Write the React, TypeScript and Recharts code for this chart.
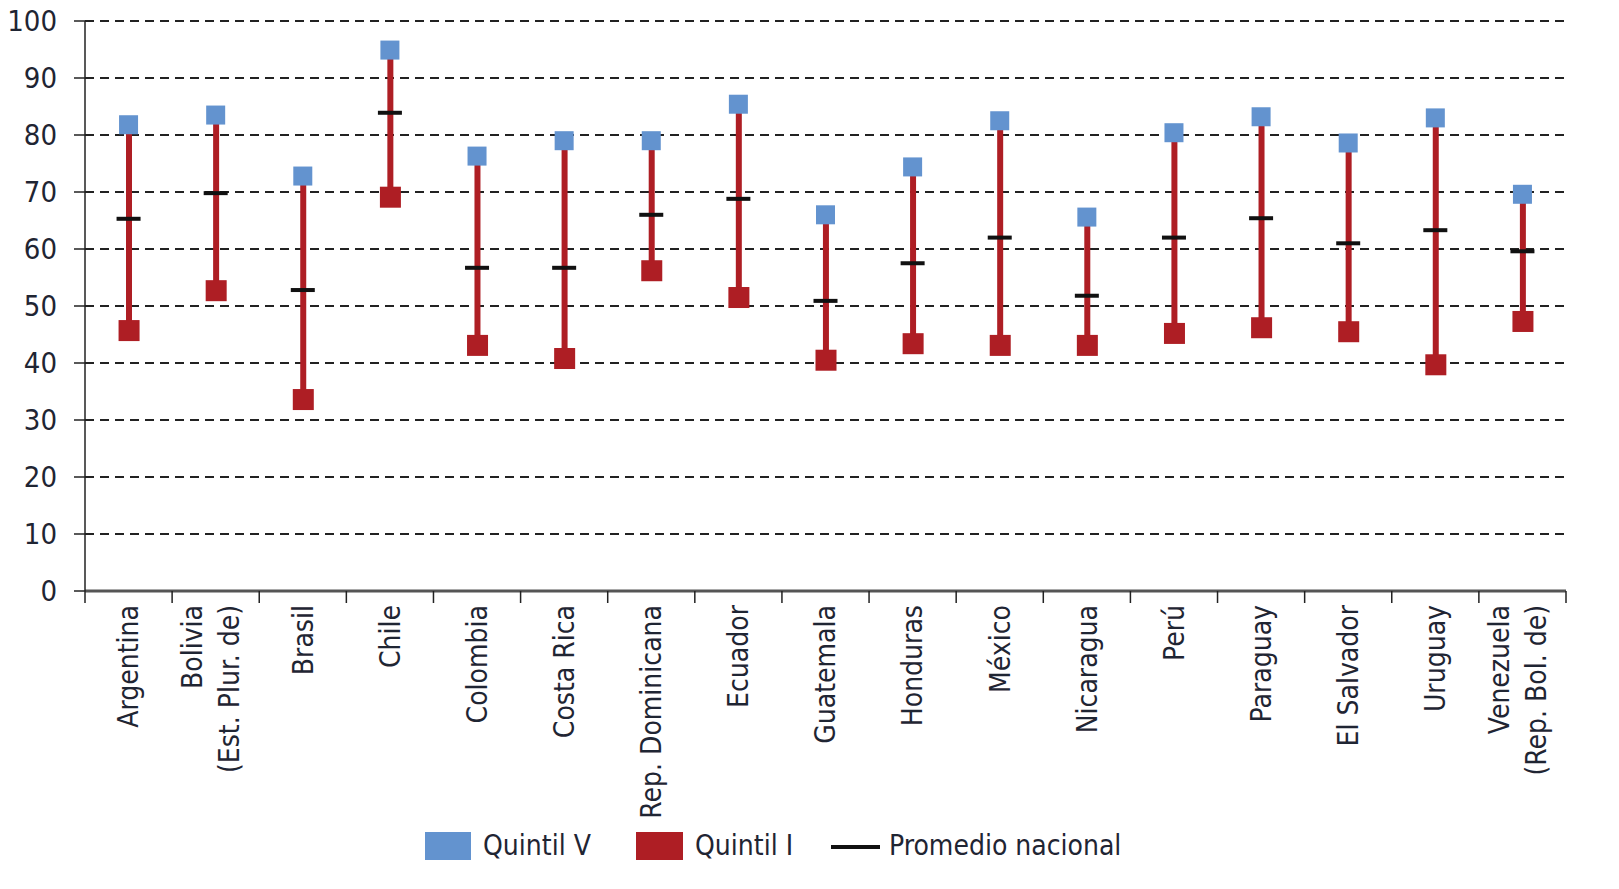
import { ComposedChart, Bar, Line, XAxis, YAxis, CartesianGrid } from "recharts";

const countries = [
  "Argentina",
  "Bolivia\n(Est. Plur. de)",
  "Brasil",
  "Chile",
  "Colombia",
  "Costa Rica",
  "Rep. Dominicana",
  "Ecuador",
  "Guatemala",
  "Honduras",
  "México",
  "Nicaragua",
  "Perú",
  "Paraguay",
  "El Salvador",
  "Uruguay",
  "Venezuela\n(Rep. Bol. de)",
];
const quintilV = [81.8, 83.5, 72.8, 94.9, 76.3, 79.0, 79.0, 85.4, 66.0, 74.4, 82.5, 65.6, 80.4, 83.2, 78.6, 83.0, 69.6];
const quintilI = [45.6, 52.6, 33.5, 69.0, 43.0, 40.7, 56.1, 51.4, 40.4, 43.3, 43.0, 43.0, 45.1, 46.1, 45.4, 39.6, 47.2];
const promedio = [65.3, 69.8, 52.8, 83.9, 56.7, 56.7, 66.0, 68.8, 50.9, 57.5, 62.0, 51.8, 62.0, 65.4, 61.0, 63.3, 59.6];
const yTicks = [0, 10, 20, 30, 40, 50, 60, 70, 80, 90, 100];

const data = countries.map((c, i) => ({
  name: c,
  q5: quintilV[i],
  q1: quintilI[i],
  avg: promedio[i],
  range: [quintilI[i], quintilV[i]],
}));

const FONT = "'Liberation Sans Narrow', 'DejaVu Sans Condensed', 'Roboto', sans-serif";
const BLUE = "#6393CF";
const RED = "#AE1E24";
const W = 1619;
const H = 889;
const M = { top: 21, right: 53, left: 0, bottom: 78 };
const Y_W = 85;
const X_H = 220;
const BAND = (W - M.left - Y_W - M.right) / countries.length;

function BlueSquare(p: any) {
  if (p.cx == null || p.cy == null) return null;
  return <rect key={`b${p.index}`} x={p.cx - 9.5} y={p.cy - 9.5} width={19} height={19} fill={BLUE} />;
}
function RedSquare(p: any) {
  if (p.cx == null || p.cy == null) return null;
  return <rect key={`r${p.index}`} x={p.cx - 10} y={p.cy - 11} width={21} height={21} fill={RED} />;
}
function AvgDash(p: any) {
  if (p.cx == null || p.cy == null) return null;
  return <rect key={`a${p.index}`} x={p.cx - 12} y={p.cy - 2} width={24} height={4} fill="#111" />;
}

function CountryTick({ x, y, payload, index }: any) {
  const lines = String(payload.value).split("\n");
  const offs = lines.length === 1 ? [0] : [-23, 14];
  const last = index === countries.length - 1;
  return (
    <g>
      <line x1={x - BAND / 2} x2={x - BAND / 2} y1={y} y2={y + 12} stroke="#222" strokeWidth={1.5} />
      {last && <line x1={x + BAND / 2} x2={x + BAND / 2} y1={y} y2={y + 12} stroke="#222" strokeWidth={1.5} />}
      <g transform={`translate(${x},${y + 14}) rotate(-90)`}>
        {lines.map((l, i) => (
          <text key={i} x={0} y={offs[i]} dy="0.35em" textAnchor="end" fontSize={28} fill="#1f2533" fontFamily={FONT}>
            {l}
          </text>
        ))}
      </g>
    </g>
  );
}

const legendText = { position: "absolute" as const, top: 826, fontFamily: FONT, fontSize: 28, color: "#1f2533", whiteSpace: "nowrap" as const, lineHeight: "40px" };

export default function App() {
  return (
    <div style={{ position: "absolute", left: 0, top: 0, width: W, height: H, background: "#fff" }}>
      <ComposedChart width={W} height={H} data={data} margin={M}>
        <CartesianGrid vertical={false} stroke="#222" strokeWidth={2} strokeDasharray="9 6" />
        <XAxis
          dataKey="name"
          interval={0}
          height={X_H}
          tickSize={0}
          tickMargin={0}
          tickLine={false}
          axisLine={{ stroke: "#555", strokeWidth: 3 }}
          tick={<CountryTick />}
        />
        <YAxis
          domain={[0, 100]}
          ticks={yTicks}
          width={Y_W}
          tickSize={11}
          tickMargin={17}
          axisLine={{ stroke: "#222", strokeWidth: 1.5 }}
          tickLine={{ stroke: "#222", strokeWidth: 1.5 }}
          tick={{ fontSize: 29, fill: "#1f2533", fontFamily: FONT }}
        />
        <Bar dataKey="range" barSize={6} fill={RED} isAnimationActive={false} />
        <Line dataKey="avg" stroke="none" dot={AvgDash} activeDot={false} isAnimationActive={false} />
        <Line dataKey="q1" stroke="none" dot={RedSquare} activeDot={false} isAnimationActive={false} />
        <Line dataKey="q5" stroke="none" dot={BlueSquare} activeDot={false} isAnimationActive={false} />
      </ComposedChart>
      {/* legend */}
      <div style={{ position: "absolute", left: 425, top: 832, width: 46, height: 28, background: BLUE }} />
      <div style={{ ...legendText, left: 483 }}>Quintil V</div>
      <div style={{ position: "absolute", left: 636, top: 832, width: 47, height: 28, background: RED }} />
      <div style={{ ...legendText, left: 695 }}>Quintil I</div>
      <div style={{ position: "absolute", left: 831, top: 845, width: 49, height: 4, background: "#111" }} />
      <div style={{ ...legendText, left: 889 }}>Promedio nacional</div>
    </div>
  );
}
